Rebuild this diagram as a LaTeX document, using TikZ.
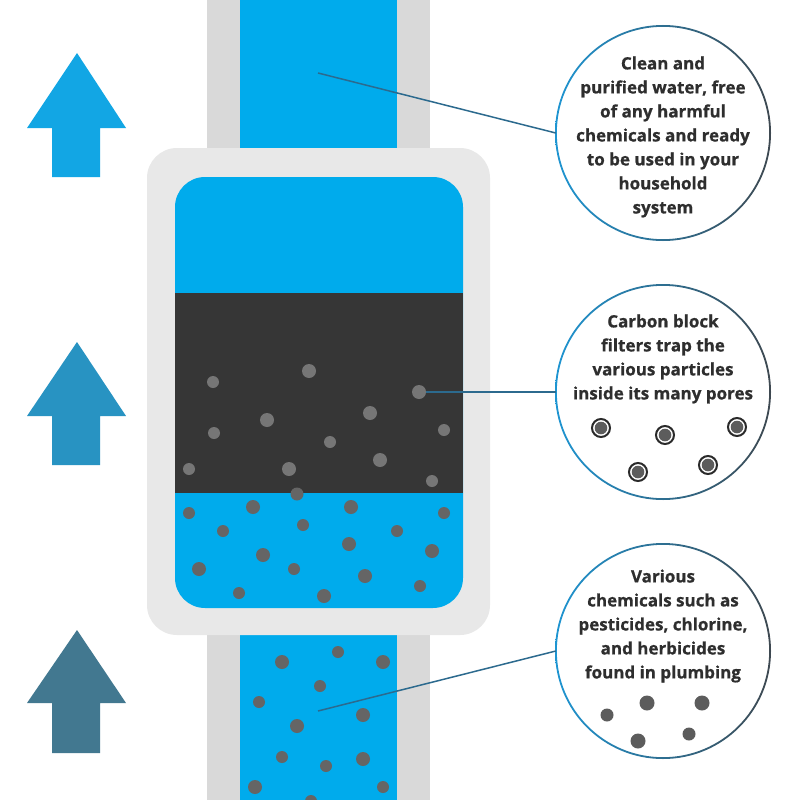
\documentclass[tikz,border=0pt]{standalone}
\usepackage{fontspec}
\setmainfont{Open Sans}[BoldFeatures={FakeBold=0.7}]
\definecolor{water}{HTML}{00ABEC}
\definecolor{pipegray}{HTML}{D9D9D9}
\definecolor{housegray}{HTML}{E8E8E8}
\definecolor{carbon}{HTML}{363636}
\definecolor{carbondot}{HTML}{767676}
\definecolor{waterdot}{HTML}{656565}
\definecolor{ringblue}{HTML}{1E95D2}
\definecolor{ringdark}{HTML}{3E4850}
\definecolor{conn}{HTML}{2C6A8E}
\definecolor{textc}{HTML}{2E2E2E}
\definecolor{arrA}{HTML}{12A6E4}
\definecolor{arrB}{HTML}{2893C2}
\definecolor{arrC}{HTML}{427890}
\definecolor{porering}{HTML}{2A2A2A}
\definecolor{poredot}{HTML}{5C5C5C}
\begin{document}
\begin{tikzpicture}[x=1pt,y=-1pt,
  bubble/.style={circle, minimum size=214pt, inner sep=0pt, fill=white},
  lbl/.style={font=\bfseries\fontsize{17}{24}\selectfont, text=textc, align=center, inner sep=0pt},
  connector/.style={draw=conn, line width=1.5pt},
  cdot/.style={fill=carbondot},
  wdot/.style={fill=waterdot}]
\useasboundingbox (0,0) rectangle (800,800);
\fill[white] (0,0) rectangle (800,800);

% arrows
\fill[arrA] (77,53) -- (126,128) -- (100,128) -- (100,177) -- (52,177) -- (52,128) -- (27,128) -- cycle;
\fill[arrB] (77,342) -- (126,416) -- (100,416) -- (100,465) -- (52,465) -- (52,416) -- (27,416) -- cycle;
\fill[arrC] (77,630) -- (126,703) -- (100,703) -- (100,753) -- (52,753) -- (52,703) -- (27,703) -- cycle;

% pipe
\fill[pipegray] (207,0) rectangle (430,800);
\fill[water] (240,0) rectangle (397,800);

% housing
\fill[housegray, rounded corners=30pt] (147,148) rectangle (490,635);
\fill[water, rounded corners=30pt] (175,177) rectangle (463,608);
\fill[carbon] (175,293) rectangle (463,493);

% carbon particles
\foreach \x/\y/\r in {213/382/6, 309/371/7, 267/420/7, 370/413/7, 214/433/6, 444/430/6,
  330/442/6, 189/469/6, 289/469/7, 380/460/7, 432/481/6}
  \fill[cdot] (\x,\y) circle (\r pt);
\node[circle, cdot, minimum size=14pt, inner sep=0pt] (pdot) at (419,392) {};

% water particles (housing)
\foreach \x/\y/\r in {297/494/6.5, 189/513/6, 253/507/7, 351/507/7, 444/513/6, 223/531/6,
  303/525/6, 397/531/6, 349/544/7, 263/555/7, 432/551/7, 199/569/7, 294/569/6,
  365/576/7, 239/593/6, 324/596/7, 420/586/6}
  \fill[wdot] (\x,\y) circle (\r pt);

% water particles (lower pipe)
\foreach \x/\y/\r in {282/662/7, 338/652/6, 383/662/7, 320/686/6, 259/702/6, 363/715/7,
  297/726/7, 282/757/6, 326/766/6, 363/759/7, 255/787/7, 383/787/6, 311/801/6}
  \fill[wdot] (\x,\y) circle (\r pt);

% connector free ends
\coordinate (p1) at (318,73);
\coordinate (p3) at (318,711);

% bubbles
\node[bubble] (c1) at (663,133) {};
\node[bubble] (c2) at (663,392) {};
\node[bubble] (c3) at (663,651) {};
\foreach \c in {c1,c2,c3}
  \shade[left color=ringblue, middle color=ringblue!55!ringdark, right color=ringdark, even odd rule]
    (\c.center) circle (108pt) (\c.center) circle (106.2pt);

% connectors
\draw[connector] (p1) -- (c1.west);
\draw[connector] (pdot.east) -- (c2.west);
\draw[connector] (p3) -- (c3.west);

% labels
\node[lbl] (t1) at (663,137) {Clean and\\purified water, free\\of any harmful\\chemicals and ready\\to be used in your\\household\\system};
\node[lbl] (t2) at (663,359) {Carbon block\\filters trap the\\various particles\\inside its many pores};
\node[lbl] (t3) at (663,626) {Various\\chemicals such as\\pesticides, chlorine,\\and herbicides\\found in plumbing};

% pores
\foreach \x/\y in {601/428, 665/435, 737/427, 638/472, 708/465} {
  \draw[porering, line width=2pt, fill=white] (\x,\y) circle (9pt);
  \fill[poredot] (\x,\y) circle (6.3pt);
}

% chemicals
\foreach \x/\y/\r in {607/715/6.5, 647/703/7.5, 702/703/7.5, 638/741/7.5, 689/734/6.5}
  \fill[poredot] (\x,\y) circle (\r pt);
\end{tikzpicture}
\end{document}
